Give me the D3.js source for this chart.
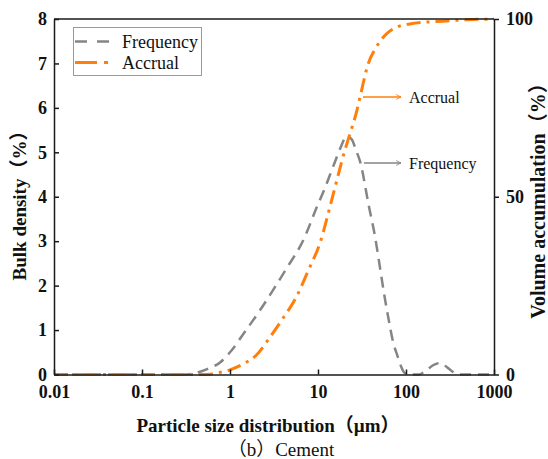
<!DOCTYPE html>
<html>
<head>
<meta charset="utf-8">
<script src="https://cdn.jsdelivr.net/npm/d3@7"></script>
<style>
  html, body { margin: 0; padding: 0; background: #fff; }
  svg { display: block; }
  text { font-family: "Times New Roman", "Liberation Serif", "Noto Sans CJK SC", serif; fill: #111; }
</style>
</head>
<body>
<svg id="chart" width="548" height="459"></svg>
<script>
// Particle size (µm) and frequency distribution (%) — left axis
const freqSize  = [0.01, 0.1, 0.3, 0.4, 0.55, 0.77, 1.0, 1.5, 2.2, 3.2, 4.5, 6.8, 9.7, 12, 15, 18, 21, 24, 27, 30, 38, 44.5, 50.5, 56, 62, 72, 80, 88, 96, 110, 140, 170, 210, 245, 290, 330, 400, 1000];
const freqValue = [0, 0, 0, 0.03, 0.12, 0.27, 0.5, 0.98, 1.45, 1.95, 2.42, 3.02, 3.77, 4.2, 4.7, 5.1, 5.35, 5.3, 5.05, 4.8, 3.77, 3.1, 2.42, 1.85, 1.35, 0.7, 0.42, 0.18, 0.04, 0, 0, 0.1, 0.22, 0.26, 0.17, 0.08, 0, 0];

// Particle size (µm) and cumulative volume (%) — right axis
const accSize  = [0.01, 0.1, 0.5, 0.6, 0.7, 0.85, 1.0, 1.4, 2.0, 2.85, 3.87, 5.7, 7.8, 10.5, 14.5, 20, 23, 27.5, 30, 37, 46, 60, 78, 110, 260, 500, 1000];
const accValue = [0, 0, 0, 0.1, 0.4, 0.8, 1.3, 2.9, 5.5, 10.5, 15.3, 21.9, 29.4, 36.9, 49.6, 62.7, 67.6, 74, 78, 87.2, 92.1, 95.8, 97.7, 98.6, 99.4, 99.8, 100];

// Axis ticks
const xTicks = [0.01, 0.1, 1, 10, 100, 1000];
const xTickLabels = ["0.01", "0.1", "1", "10", "100", "1000"];
const yLeftTicks = [0, 1, 2, 3, 4, 5, 6, 7, 8];
const yRightTicks = [0, 50, 100];

// Series names
const seriesNames = ["Frequency", "Accrual"];

const svg = d3.select("#chart");
const plotLeft = 54, plotRight = 494, plotTop = 19, plotBottom = 374.5;

const x = d3.scaleLog().domain([0.01, 1000]).range([plotLeft, plotRight]);
const yL = d3.scaleLinear().domain([0, 8]).range([plotBottom, plotTop]);
const yR = d3.scaleLinear().domain([0, 100]).range([plotBottom, plotTop]);

const axisColor = "#1a1a1a";
const gray = "#858585";
const orange = "#ff7f0a";

// Curves
const freqData = freqSize.map((s, i) => [s, freqValue[i]]);
const accData = accSize.map((s, i) => [s, accValue[i]]);

svg.append("path")
  .datum(freqData)
  .attr("fill", "none")
  .attr("stroke", gray)
  .attr("stroke-width", 2.5)
  .attr("stroke-dasharray", "11,7")
  .attr("d", d3.line().x(d => x(d[0])).y(d => yL(d[1])).curve(d3.curveMonotoneX));

svg.append("path")
  .datum(accData)
  .attr("fill", "none")
  .attr("stroke", orange)
  .attr("stroke-width", 3)
  .attr("stroke-dasharray", "14,6,3,6")
  .attr("d", d3.line().x(d => x(d[0])).y(d => yR(d[1])).curve(d3.curveMonotoneX));

// Axes
const tickFont = g => g.selectAll("text")
  .style("font-size", "18px").style("font-weight", "bold")
  .style("font-family", "'Times New Roman', 'Liberation Serif', serif").attr("fill", "#111");

const gx = svg.append("g").attr("transform", `translate(0,${plotBottom})`)
  .call(d3.axisBottom(x).tickValues(xTicks).tickFormat((d, i) => xTickLabels[i])
    .tickSizeInner(-5).tickSizeOuter(0).tickPadding(11));
gx.call(tickFont);

const gyl = svg.append("g").attr("transform", `translate(${plotLeft},0)`)
  .call(d3.axisLeft(yL).tickValues(yLeftTicks).tickFormat(d3.format("d"))
    .tickSizeInner(-5).tickSizeOuter(0).tickPadding(7));
gyl.call(tickFont);

const gyr = svg.append("g").attr("transform", `translate(${plotRight},0)`)
  .call(d3.axisRight(yR).tickValues(yRightTicks).tickFormat(d3.format("d"))
    .tickSizeInner(5).tickSizeOuter(0).tickPadding(7));
gyr.call(tickFont);

[gx, gyl, gyr].forEach(g => {
  g.select(".domain").attr("stroke", axisColor).attr("stroke-width", 1.5);
  g.selectAll(".tick line").attr("stroke", axisColor).attr("stroke-width", 1.5);
});

// Top border
svg.append("line")
  .attr("x1", plotLeft).attr("x2", plotRight).attr("y1", plotTop).attr("y2", plotTop)
  .attr("stroke", axisColor).attr("stroke-width", 1.5);

// Axis titles
svg.append("text")
  .attr("x", 268).attr("y", 432)
  .attr("text-anchor", "middle")
  .style("font-size", "19px").style("font-weight", "bold")
  .text("Particle size distribution（µm）");

svg.append("text")
  .attr("transform", `translate(26,201) rotate(-90)`)
  .attr("text-anchor", "middle")
  .style("font-size", "19px").style("font-weight", "bold")
  .text("Bulk density（%）");

svg.append("text")
  .attr("transform", `translate(544.5,196) rotate(-90)`)
  .attr("text-anchor", "middle")
  .style("font-size", "20px").style("font-weight", "bold")
  .text("Volume accumulation（%）");

// Caption
svg.append("text")
  .attr("x", 281).attr("y", 456)
  .attr("text-anchor", "middle")
  .style("font-size", "19px")
  .text("（b）Cement");

// Legend
const legend = svg.append("g");
legend.append("rect")
  .attr("x", 73.5).attr("y", 27.5).attr("width", 128).attr("height", 48)
  .attr("fill", "#fff").attr("stroke", "#9a9a9a").attr("stroke-width", 1);
const legendStyles = [
  { color: gray, width: 2.5, dash: "12,10", y: 41.5 },
  { color: orange, width: 3, dash: "22,7,4,20", y: 62.5 }
];
seriesNames.forEach((name, i) => {
  const s = legendStyles[i];
  legend.append("line")
    .attr("x1", 75).attr("x2", 113).attr("y1", s.y).attr("y2", s.y)
    .attr("stroke", s.color).attr("stroke-width", s.width)
    .attr("stroke-dasharray", s.dash);
  legend.append("text")
    .attr("x", 122).attr("y", s.y + 6)
    .style("font-size", "18px")
    .text(name);
});

// Arrow annotations
const defs = svg.append("defs");
[["arrowOrange", orange], ["arrowGray", gray]].forEach(([id, c]) => {
  defs.append("marker")
    .attr("id", id).attr("viewBox", "0 0 10 10")
    .attr("refX", 9).attr("refY", 5)
    .attr("markerWidth", 6).attr("markerHeight", 6)
    .attr("markerUnits", "userSpaceOnUse")
    .attr("orient", "auto")
    .append("path")
    .attr("d", "M1,1 L9,5 L1,9")
    .attr("fill", "none").attr("stroke", c).attr("stroke-width", 1.4);
});

const notes = [
  { name: seriesNames[1], color: orange, marker: "arrowOrange", x0: 363, y: 97 },
  { name: seriesNames[0], color: gray, marker: "arrowGray", x0: 364, y: 163 }
];
notes.forEach(n => {
  svg.append("line")
    .attr("x1", n.x0).attr("x2", 401).attr("y1", n.y).attr("y2", n.y)
    .attr("stroke", n.color).attr("stroke-width", 1.6)
    .attr("marker-end", `url(#${n.marker})`);
  svg.append("text")
    .attr("x", 409).attr("y", n.y + 6)
    .style("font-size", "16px")
    .text(n.name);
});
</script>
</body>
</html>
